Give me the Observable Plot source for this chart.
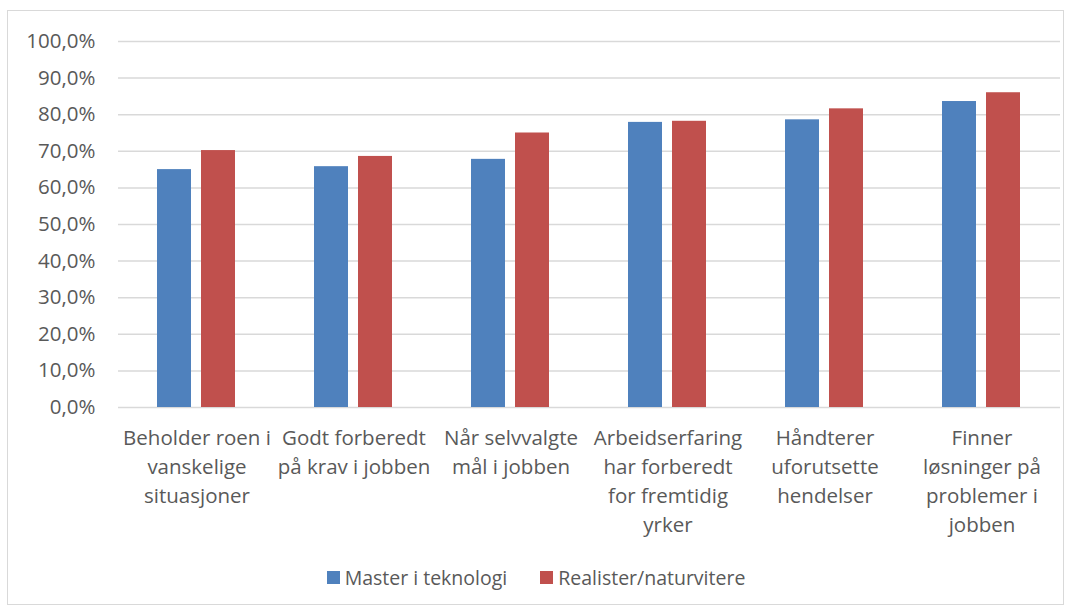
<!DOCTYPE html>
<html><head><meta charset="utf-8">
<script src="https://cdn.jsdelivr.net/npm/d3@7"></script>
<script src="https://cdn.jsdelivr.net/npm/@observablehq/plot@0.6"></script>
<style>
body{margin:0;background:#fff;font-family:"Open Sans",sans-serif;}
#frame{position:absolute;left:7px;top:10px;width:1057px;height:595px;border:1px solid #d9d9d9;box-sizing:border-box;pointer-events:none;}
#chart{position:absolute;left:0;top:0;}
#legend{position:absolute;top:564px;left:0;width:1072px;display:flex;justify-content:center;align-items:center;gap:33px;font-size:19.5px;color:#595959;}
#legend .item{display:flex;align-items:center;gap:5px;}
#legend .sw{width:13px;height:13px;display:inline-block;}
</style></head>
<body>
<div id="chart"></div>
<div id="legend"></div>
<div id="frame"></div>
<script>
const categories = [
  "Beholder roen i\nvanskelige\nsituasjoner",
  "Godt forberedt\npå krav i jobben",
  "Når selvvalgte\nmål i jobben",
  "Arbeidserfaring\nhar forberedt\nfor fremtidig\nyrker",
  "Håndterer\nuforutsette\nhendelser",
  "Finner\nløsninger på\nproblemer i\njobben"
];
const series = ["Master i teknologi", "Realister/naturvitere"];
const masterValues = [65.0, 65.8, 67.8, 77.9, 78.6, 83.6];
const realistValues = [70.2, 68.6, 75.0, 78.2, 81.6, 86.0];
const yTicks = [0, 10, 20, 30, 40, 50, 60, 70, 80, 90, 100];
const colors = ["#4f81bd", "#c0504d"];

const rows = [];
categories.forEach((c, i) => {
  rows.push({category: c, series: series[0], value: masterValues[i]});
  rows.push({category: c, series: series[1], value: realistValues[i]});
});

const fmt = d => d.toFixed(1).replace(".", ",") + "%";

const chart = Plot.plot({
  width: 1072,
  height: 555,
  marginTop: 41,
  marginBottom: 148,
  marginLeft: 118,
  marginRight: 12,
  style: {fontFamily: "'Open Sans', sans-serif", color: "#595959", background: "transparent"},
  fx: {domain: categories, paddingInner: 0, paddingOuter: 0, label: null},
  x: {domain: series, paddingInner: 0.222, paddingOuter: 0.856, axis: null},
  y: {domain: [0, 100], label: null},
  color: {domain: series, range: colors},
  marks: [
    Plot.ruleY(yTicks, {stroke: "#d9d9d9", strokeWidth: 1.5}),
    Plot.axisY({ticks: yTicks, tickSize: 0, tickPadding: 23, tickFormat: fmt, fontSize: 20.5, label: null}),
    Plot.axisFx({anchor: "bottom", tickSize: 0, tickPadding: 17, fontSize: 20.5, lineHeight: 1.42, label: null}),
    Plot.barY(rows, {fx: "category", x: "series", y: "value", fill: "series"})
  ]
});
document.getElementById("chart").append(chart);

const legend = document.getElementById("legend");
series.forEach((s, i) => {
  const item = document.createElement("div");
  item.className = "item";
  const sw = document.createElement("span");
  sw.className = "sw";
  sw.style.background = colors[i];
  const t = document.createElement("span");
  t.textContent = s;
  item.append(sw, t);
  legend.append(item);
});
</script>
</body></html>
